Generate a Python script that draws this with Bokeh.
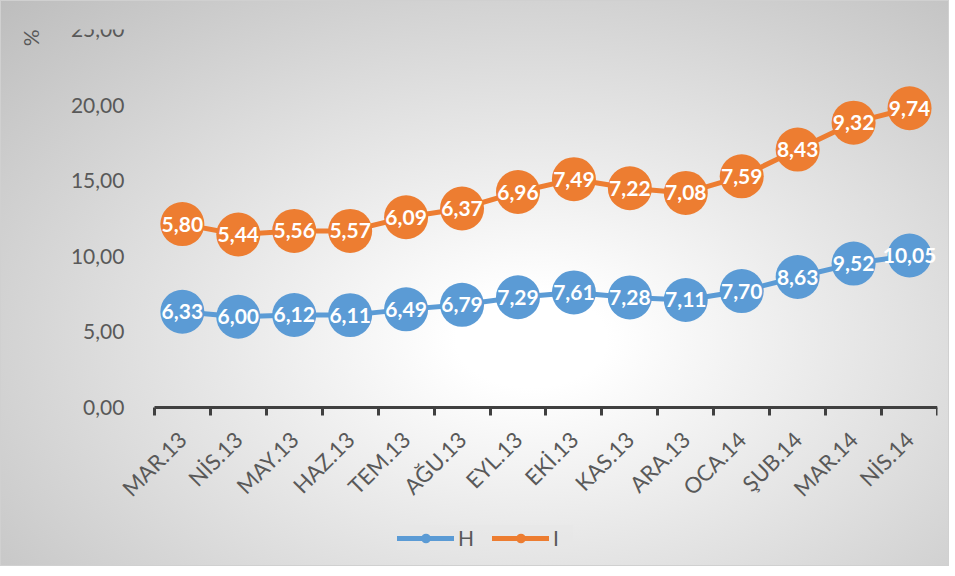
from bokeh.plotting import figure
from bokeh.models import (ColumnDataSource, FactorRange, Range1d, LinearAxis, FixedTicker,
                          CustomJSTickFormatter, Legend, LegendItem, Title)
from bokeh.transform import stack
from bokeh.core.properties import value
from bokeh.embed import file_html
from bokeh.resources import INLINE
import math

months = ["MAR.13", "NİS.13", "MAY.13", "HAZ.13", "TEM.13", "AĞU.13", "EYL.13",
          "EKİ.13", "KAS.13", "ARA.13", "OCA.14", "ŞUB.14", "MAR.14", "NİS.14"]
H = [6.33, 6.00, 6.12, 6.11, 6.49, 6.79, 7.29, 7.61, 7.28, 7.11, 7.70, 8.63, 9.52, 10.05]
I = [5.80, 5.44, 5.56, 5.57, 6.09, 6.37, 6.96, 7.49, 7.22, 7.08, 7.59, 8.43, 9.32, 9.74]
y_ticks = [0, 5, 10, 15, 20, 25]
y_tick_labels = ["0,00", "5,00", "10,00", "15,00", "20,00", "25,00"]

BLUE = "#5B9BD5"
ORANGE = "#ED7D31"
TXT = "#595959"
AX = "#404040"
FONT = "Lato"

def fmt(v):
    return f"{v:.2f}".replace(".", ",")

src = ColumnDataSource(dict(x=months, H=H, I=I,
                            lh=[fmt(v) for v in H], li=[fmt(v) for v in I]))

# two empty slots on the left leave room (inside the frame) for the value-axis labels
PAD = [" ", "  "]
NPAD = len(PAD)
n = len(months)

# value axis 0..25 occupies the upper 378 px; frame continues below to hold axis labels + legend
Y_MAX = 25
PLOT_PX = 378
FRAME_PX = 530
y_start = Y_MAX - FRAME_PX * Y_MAX / PLOT_PX

p = figure(frame_width=895, frame_height=FRAME_PX,
           x_range=FactorRange(factors=PAD + months, range_padding=0),
           y_range=Range1d(y_start, Y_MAX), output_backend="svg", toolbar_location=None,
           x_axis_location=None, min_border_left=42, min_border_right=12,
           min_border_top=29, min_border_bottom=7)
p.styles = {"background": "radial-gradient(ellipse farthest-corner at 56% 60%, #ffffff 0%, #ffffff 10%, #bdbdbd 100%)",
            "box-shadow": "inset 0 0 0 1px #d0d0d0"}
p.border_fill_color = None
p.background_fill_color = None
p.outline_line_color = None
p.xgrid.visible = False
p.ygrid.visible = False

# y axis, drawn at the start of the first month slot
ya = p.yaxis[0]
ya.fixed_location = NPAD
ya.ticker = FixedTicker(ticks=y_ticks)
ya.major_label_overrides = {t: l for t, l in zip(y_ticks, y_tick_labels)}
ya.axis_line_color = None
ya.major_tick_line_color = None
ya.minor_tick_line_color = None
ya.major_label_standoff = 24
ya.major_label_text_font = FONT
ya.major_label_text_font_size = "21px"
ya.major_label_text_color = TXT

p.add_layout(Title(text="%", align="right", text_font=FONT, text_font_size="21px",
                   text_font_style="normal", text_color=TXT, standoff=0), "left")

# x axis drawn at y = 0 on the factor range's synthetic coordinates:
# labels at category centres, ticks at category boundaries
xa = LinearAxis(ticker=FixedTicker(ticks=[NPAD + i + 0.5 for i in range(n)],
                                   minor_ticks=[NPAD + i for i in range(n + 1)]),
                formatter=CustomJSTickFormatter(args=dict(labels=months, off=NPAD),
                                                code="return labels[Math.floor(tick) - off];"),
                fixed_location=0, bounds=(NPAD, NPAD + n))
xa.axis_line_color = AX
xa.axis_line_width = 3
xa.major_tick_in = 0
xa.major_tick_out = 0
xa.minor_tick_in = 0
xa.minor_tick_out = 8
xa.minor_tick_line_color = AX
xa.minor_tick_line_width = 3
xa.major_label_orientation = math.pi / 4
xa.major_label_standoff = 20
xa.major_label_text_font = FONT
xa.major_label_text_font_size = "22px"
xa.major_label_text_color = TXT
p.add_layout(xa, "below")

lh = p.line(x="x", y=stack("H"), source=src, line_color=BLUE, line_width=5,
            line_join="round", line_cap="round")
li = p.line(x="x", y=stack("H", "I"), source=src, line_color=ORANGE, line_width=5,
            line_join="round", line_cap="round")
ch = p.scatter(x="x", y=stack("H"), source=src, size=44, fill_color=BLUE, line_color=None)
ci = p.scatter(x="x", y=stack("H", "I"), source=src, size=44, fill_color=ORANGE, line_color=None)
for col, ycol in (("lh", stack("H")), ("li", stack("H", "I"))):
    p.text(x="x", y=ycol, text=col, source=src, text_align="center", text_baseline="middle",
           text_color="white", text_font=value(FONT), text_font_style="bold",
           text_font_size="21px")

legend = Legend(items=[LegendItem(label="H", renderers=[lh, ch]),
                       LegendItem(label="I", renderers=[li, ci])],
                orientation="horizontal", location=(355, 9),
                glyph_width=57, glyph_height=24, label_text_font=FONT,
                label_text_font_size="21px", label_text_color=TXT,
                label_standoff=4, label_height=24,
                background_fill_color="#e6e6e6", background_fill_alpha=0.45,
                border_line_color=None, spacing=14, padding=10, margin=0)
p.add_layout(legend, "center")

open("out.html", "w").write(file_html(p, INLINE))
